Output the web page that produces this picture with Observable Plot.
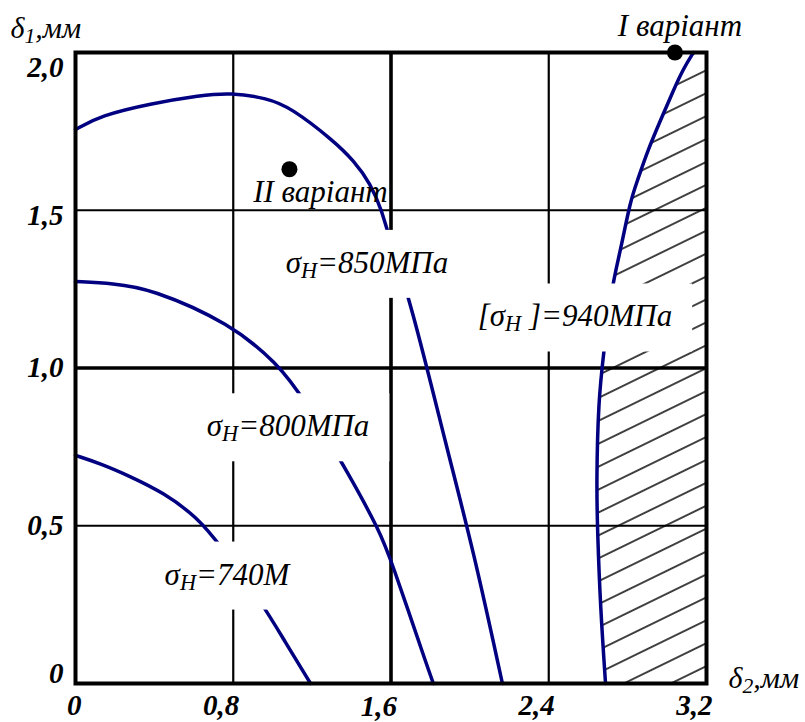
<!DOCTYPE html>
<html><head><meta charset="utf-8">
<script src="https://cdn.jsdelivr.net/npm/d3@7"></script>
<script src="https://cdn.jsdelivr.net/npm/@observablehq/plot@0.6"></script>
<style>body{margin:0;background:#fff}</style>
</head><body><div id="chart"></div>
<script>
// ---- data (δ2 in mm on x, δ1 in mm on y) ----
const xTicks = [0, 0.8, 1.6, 2.4, 3.2];
const yTicks = [0, 0.5, 1.0, 1.5, 2.0];
const xMajorGrid = [1.6];
const yMajorGrid = [1.0];

const sigma740_d2 = [0, 0.127, 0.279, 0.446, 0.619, 0.735, 0.938, 1.065, 1.192];
const sigma740_d1 = [0.723, 0.697, 0.656, 0.605, 0.526, 0.437, 0.263, 0.130, 0];

const sigma800_d2 = [0, 0.19, 0.380, 0.786, 1.024, 1.156, 1.405, 1.537, 1.597, 1.785, 1.815];
const sigma800_d1 = [1.274, 1.268, 1.252, 1.141, 1.014, 0.906, 0.643, 0.488, 0.399, 0.051, 0];

const sigma850_d2 = [0, 0.127, 0.380, 0.634, 0.786, 0.974, 1.090, 1.308, 1.410, 1.496, 1.557, 1.582, 1.699, 1.886, 2.018, 2.165];
const sigma850_d1 = [1.756, 1.800, 1.838, 1.864, 1.873, 1.855, 1.826, 1.721, 1.658, 1.585, 1.493, 1.429, 1.214, 0.738, 0.422, 0];

const sigma940_d2 = [3.134, 3.083, 3.032, 2.977, 2.901, 2.850, 2.814, 2.764, 2.718, 2.677, 2.652, 2.642, 2.647, 2.662, 2.688];
const sigma940_d1 = [2.0, 1.949, 1.880, 1.800, 1.689, 1.594, 1.531, 1.372, 1.255, 1.040, 0.897, 0.643, 0.485, 0.241, 0];

const labelText = ["σ_{H}=850МПа", "σ_{H}=800МПа", "[σ_{H} ]=940МПа", "σ_{H}=740М"];
const labelD2 = [1.478, 1.078, 2.533, 0.768];
const labelD1 = [1.333, 0.815, 1.163, 0.345];

const variantNames = ["I варіант", "II варіант"];
const variantD2 = [3.04, 1.085];
const variantD1 = [2.0, 1.63];

const xAxisLabel = "δ_{2},мм";
const yAxisLabel = "δ_{1},мм";

// ---- build ----
const zip = (xs, ys) => xs.map((x, i) => ({d2: x, d1: ys[i]}));
const c740 = zip(sigma740_d2, sigma740_d1);
const c800 = zip(sigma800_d2, sigma800_d1);
const c850 = zip(sigma850_d2, sigma850_d1);
const c940 = zip(sigma940_d2, sigma940_d1);
const labels = labelText.map((t, i) => ({t, d2: labelD2[i], d1: labelD1[i]}));
const variants = variantNames.map((n, i) => ({n, d2: variantD2[i], d1: variantD1[i]}));
const xMax = xTicks[xTicks.length - 1];

const navy = "#000080";
const font = "Liberation Serif";
const fmt = d => d === 0 ? "0" : d.toFixed(1).replace(".", ",");
const tickFont = {fontSize: 29, fontWeight: "bold", fontStyle: "italic", fontFamily: font, fill: "black"};
const lblFont = {fontSize: 31, fontStyle: "italic", fontFamily: font, fill: "black"};
const axLblFont = {fontSize: 30, fontStyle: "italic", fontFamily: font, fill: "black"};
const lineOpts = {x: "d2", y: "d1", stroke: navy, strokeWidth: 3.5, curve: "basis"};
const axOpts = {tickSize: 0, tickFormat: fmt, label: null, ...tickFont};

const svg = Plot.plot({
  width: 805, height: 722,
  marginLeft: 75, marginRight: 99, marginTop: 52, marginBottom: 39,
  x: {domain: [0, xMax], axis: null},
  y: {domain: [0, 2], axis: null},
  style: {fontFamily: font, background: "white", color: "black", overflow: "visible"},
  marks: [
    Plot.ruleX(xTicks.filter(d => d > 0 && d < xMax && !xMajorGrid.includes(d)), {stroke: "black", strokeWidth: 2.2}),
    Plot.ruleX(xMajorGrid, {stroke: "black", strokeWidth: 3.6}),
    Plot.ruleY(yTicks.filter(d => d > 0 && d < 2 && !yMajorGrid.includes(d)), {stroke: "black", strokeWidth: 2.2}),
    Plot.ruleY(yMajorGrid, {stroke: "black", strokeWidth: 3.6}),
    Plot.areaX(c940, {x1: "d2", x2: () => xMax, y: "d1", fill: "url(#hatch)", curve: "basis"}),
    Plot.line(c740, lineOpts),
    Plot.line(c800, lineOpts),
    Plot.line(c850, lineOpts),
    Plot.line(c940, lineOpts),
    Plot.text(labels, {x: "d2", y: "d1", text: "t", ...lblFont}),
    Plot.dot(variants, {x: "d2", y: "d1", r: 8, fill: "black"}),
    Plot.text(variants.slice(0, 1), {x: "d2", y: "d1", text: "n", dx: 5, dy: -26, ...lblFont}),
    Plot.text(variants.slice(1, 2), {x: "d2", y: "d1", text: "n", dx: 31, dy: 23, ...lblFont}),
    Plot.frame({stroke: "black", strokeWidth: 4}),
    // axes
    Plot.axisX(xTicks.filter(d => d !== 1.6), {...axOpts, tickPadding: 0, textAnchor: "end", dx: 6, dy: 11}),
    Plot.axisX([1.6], {...axOpts, tickPadding: 0, textAnchor: "end", dx: 6, dy: 12}),
    Plot.axisY([0.5, 1.0], {...axOpts, tickPadding: 12}),
    Plot.axisY([1.5], {...axOpts, tickPadding: 12, dy: 5}),
    Plot.axisY([2.0], {...axOpts, tickPadding: 12, dy: 15}),
    Plot.axisY([0], {...axOpts, tickPadding: 12, dy: -10}),
    Plot.text([yAxisLabel], {frameAnchor: "top-left", textAnchor: "start", lineAnchor: "middle", dx: -65, dy: -24, ...axLblFont}),
    Plot.text([xAxisLabel], {frameAnchor: "bottom-right", textAnchor: "start", lineAnchor: "middle", dx: 22, dy: -5, ...axLblFont})
  ]
});

// hatch pattern
const NS = "http://www.w3.org/2000/svg";
const defs = document.createElementNS(NS, "defs");
defs.innerHTML = '<pattern id="hatch" patternUnits="userSpaceOnUse" width="40" height="20.6" patternTransform="rotate(-26)"><line x1="0" x2="40" y1="2" y2="2" stroke="black" stroke-width="1.6"/></pattern>';
svg.insertBefore(defs, svg.firstChild);

// subscripts
svg.querySelectorAll("text").forEach(t => {
  const s = t.textContent;
  if (!s.includes("_{")) return;
  t.textContent = "";
  const parts = s.split(/(_\{[^}]*\})/).filter(p => p);
  let shifted = false;
  parts.forEach(p => {
    const ts = document.createElementNS(NS, "tspan");
    if (p.startsWith("_{")) {
      ts.textContent = p.slice(2, -1);
      ts.setAttribute("font-size", "72%");
      ts.setAttribute("dy", "5");
      shifted = true;
    } else {
      ts.textContent = p;
      if (shifted) { ts.setAttribute("dy", "-5"); shifted = false; }
    }
    t.appendChild(ts);
  });
});

document.getElementById("chart").append(svg);

// white boxes behind contour labels
const padX = 20, padY = 15;
Array.from(svg.querySelectorAll("text")).filter(t => t.textContent.includes("σ")).forEach(t => {
  const b = t.getBBox();
  const r = document.createElementNS(NS, "rect");
  r.setAttribute("x", b.x - padX);
  r.setAttribute("y", b.y - padY);
  r.setAttribute("width", b.width + 2 * padX);
  r.setAttribute("height", b.height + 2 * padY);
  r.setAttribute("fill", "white");
  r.setAttribute("stroke", "none");
  const tr = t.getAttribute("transform");
  if (tr) r.setAttribute("transform", tr);
  t.parentNode.insertBefore(r, t);
});
</script>
</body></html>
